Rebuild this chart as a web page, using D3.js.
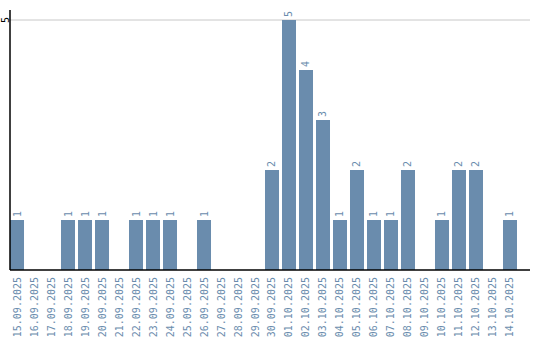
<!DOCTYPE html>
<html>
<head>
<meta charset="utf-8">
<script src="https://cdn.jsdelivr.net/npm/d3@7"></script>
<style>
  body { margin: 0; background: #fff; }
  text { font-family: "DejaVu Sans Mono", monospace; font-size: 10px; }
</style>
</head>
<body>
<svg id="chart" width="540" height="340"></svg>
<script>
let dates = ["15.09.2025","16.09.2025","17.09.2025","18.09.2025","19.09.2025","20.09.2025",
  "21.09.2025","22.09.2025","23.09.2025","24.09.2025","25.09.2025","26.09.2025","27.09.2025",
  "28.09.2025","29.09.2025","30.09.2025","01.10.2025","02.10.2025","03.10.2025","04.10.2025",
  "05.10.2025","06.10.2025","07.10.2025","08.10.2025","09.10.2025","10.10.2025","11.10.2025",
  "12.10.2025","13.10.2025","14.10.2025"];
let counts = [1,0,0,1,1,1,0,1,1,1,0,1,0,0,0,2,5,4,3,1,2,1,1,2,0,1,2,2,0,1];
let yTicks = [5];

let svg = d3.select("#chart");
let plotLeft = 10, plotRight = 530, plotTop = 20, base = 270;

let x = d3.scaleBand().domain(dates).range([plotLeft, 517]).paddingInner(0.176).paddingOuter(0);
let y = d3.scaleLinear().domain([0, 5]).range([base, plotTop]);

// gridline
svg.selectAll(".grid").data(yTicks).enter().append("line")
    .attr("x1", plotLeft).attr("x2", plotRight)
    .attr("y1", d => y(d)).attr("y2", d => y(d))
    .attr("stroke", "#c8c8c8").attr("stroke-width", 1);

// bars
let data = dates.map((d, i) => ({date: d, n: counts[i]}));
svg.selectAll(".bar").data(data.filter(d => d.n > 0)).enter().append("rect")
    .attr("x", d => x(d.date))
    .attr("y", d => y(d.n))
    .attr("width", x.bandwidth())
    .attr("height", d => base - y(d.n))
    .attr("fill", "#6a8cad");

// value labels
svg.selectAll(".val").data(data.filter(d => d.n > 0)).enter().append("text")
    .attr("transform", d => `translate(${x(d.date) + x.bandwidth()/2}, ${y(d.n) - 3}) rotate(-90)`)
    .attr("dy", "0.35em")
    .attr("fill", "#6a8cad")
    .text(d => d.n);

// axes lines
svg.append("line").attr("x1", plotLeft).attr("x2", plotLeft).attr("y1", 10).attr("y2", base)
    .attr("stroke", "#000").attr("stroke-width", 1.5);
svg.append("line").attr("x1", plotLeft).attr("x2", plotRight).attr("y1", base).attr("y2", base)
    .attr("stroke", "#000").attr("stroke-width", 1.5);

// y tick label
svg.selectAll(".ytick").data(yTicks).enter().append("text")
    .attr("transform", d => `translate(5, ${y(d)}) rotate(-90)`)
    .attr("text-anchor", "middle")
    .attr("dy", "0.35em")
    .attr("fill", "#000")
    .text(d => d);

// x labels
svg.selectAll(".xlab").data(dates).enter().append("text")
    .attr("transform", d => `translate(${x(d) + x.bandwidth()/2}, 277) rotate(-90)`)
    .attr("text-anchor", "end")
    .attr("dy", "0.35em")
    .attr("fill", "#6a8cad")
    .text(d => d);
</script>
</body>
</html>
